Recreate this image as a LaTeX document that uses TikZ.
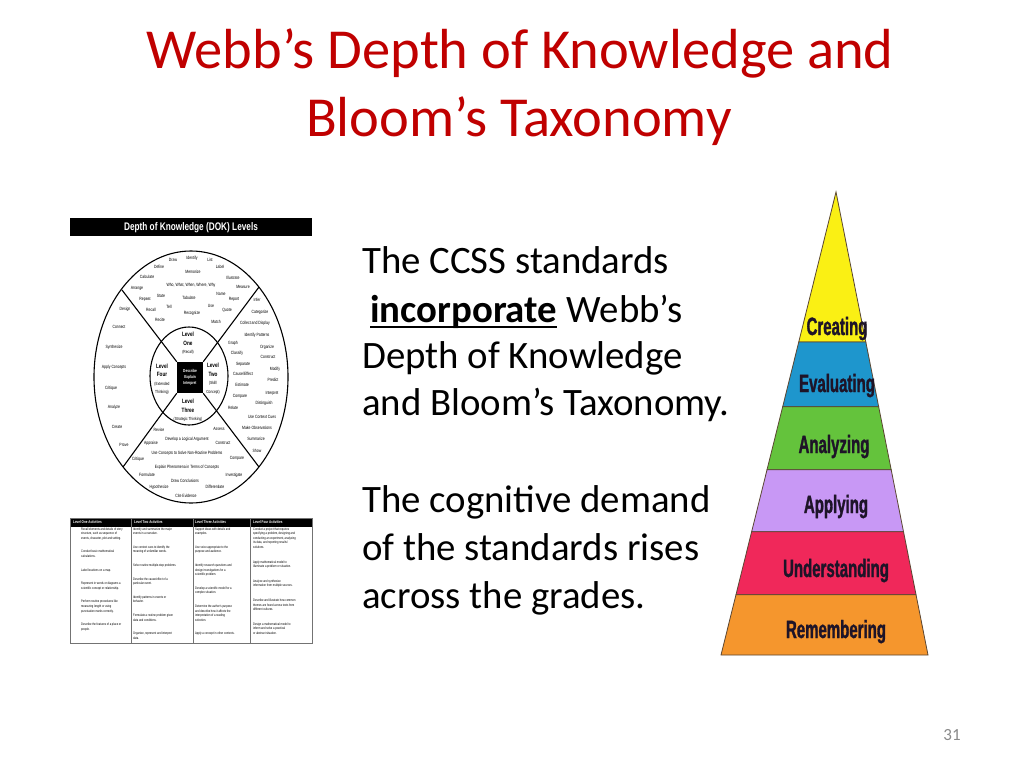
\documentclass[tikz,border=0pt]{standalone}
\usepackage{fontspec}
\setmainfont{Carlito}
\newfontfamily\cond[FakeStretch=0.75]{Liberation Sans}
\newfontfamily\pyrfont[FakeStretch=0.6, BoldFeatures={FakeBold=1.2}]{Liberation Sans}
\newcommand\lvlsubfont{\mdseries\fontsize{4.4}{8.5}\selectfont}
\usetikzlibrary{calc}
\definecolor{titlered}{RGB}{192,0,0}
\definecolor{pyY}{RGB}{250,240,20}
\definecolor{pyB}{RGB}{30,150,205}
\definecolor{pyG}{RGB}{100,195,60}
\definecolor{pyP}{RGB}{200,152,245}
\definecolor{pyR}{RGB}{240,40,90}
\definecolor{pyO}{RGB}{245,150,45}
\definecolor{pyline}{RGB}{90,70,50}
\definecolor{pytext}{RGB}{30,20,40}
\definecolor{pgnum}{RGB}{137,137,137}
\begin{document}
\begin{tikzpicture}[x=1pt,y=-1pt,
  titletext/.style={font=\fontsize{56.5}{68}\selectfont, text=titlered, anchor=base, inner sep=0},
  body/.style={font=\fontsize{38.8}{47.5}\selectfont, anchor=base west, inner sep=0},
  ww/.style={font=\cond\fontsize{4.6}{5}\selectfont, inner sep=0},
  lvl/.style={font=\cond\bfseries\fontsize{6.2}{8.5}\selectfont, align=center, inner sep=0},
  wline/.style={line width=1.1},
  tab/.style={font=\cond\fontsize{3.5}{4.6}\selectfont, align=left, inner sep=0, anchor=north west},
  tabhead/.style={font=\cond\bfseries\fontsize{4}{4.5}\selectfont, text=white, inner sep=0, anchor=west},
  band/.style={draw=pyline, line width=0.8},
  pyrlabel/.style={font=\pyrfont\bfseries\fontsize{25}{25}\selectfont, text=pytext, anchor=base, inner sep=0}
]
\useasboundingbox (0,0) rectangle (1024,768);
\fill[white] (0,0) rectangle (1024,768);

% ---------- title ----------
\node[titletext] (t1) at (520,68) {Webb’s Depth of Knowledge and};
\node[titletext] (t2) at (519,136) {Bloom’s Taxonomy};

% ---------- body text ----------
\node[body] (b1) at (362,273) {The CCSS standards};
\node[body, font=\bfseries\fontsize{38.8}{47.5}\selectfont] (b2a) at (370,322) {incorporate};
\node[body] (b2b) at ([xshift=9]b2a.base east) {Webb’s};
\draw[line width=2] ([yshift=-5]b2a.base west) -- ([yshift=-5]b2a.base east);
\node[body] (b3) at (362,368) {Depth of Knowledge};
\node[body] (b4) at (362,415) {and Bloom’s Taxonomy.};
\node[body] (b5) at (362,512) {The cognitive demand};
\node[body] (b6) at (362,560) {of the standards rises};
\node[body] (b7) at (362,608) {across the grades.};

% ---------- page number ----------
\node[font=\fontsize{17}{17}\selectfont, text=pgnum, inner sep=0] (pg) at (952,735) {31};

% ---------- DOK wheel ----------
\fill[black] (70,218) rectangle (312,236);
\node[font=\cond\bfseries\fontsize{11}{12}\selectfont, text=white, inner sep=0] (dokt) at (191,227.5) {Depth of Knowledge (DOK) Levels};

\draw[wline] (191,377) ellipse [x radius=97, y radius=126];
\draw[wline] (189,376) ellipse [x radius=39, y radius=49];
\node[fill=black, minimum width=26, minimum height=31, inner sep=0] (sq) at (190,377.5) {};
\coordinate (o1) at (122,290);
\coordinate (o2) at (259,287);
\coordinate (o3) at (123,467);
\coordinate (o4) at (259,467);
\draw[wline] (sq.north west) -- (o1);
\draw[wline] (sq.north east) -- (o2);
\draw[wline] (sq.south west) -- (o3);
\draw[wline] (sq.south east) -- (o4);
\node[font=\cond\bfseries\fontsize{4.3}{6}\selectfont, text=white, align=center, inner sep=0] (sqt) at (sq.center) {Describe\\Explain\\Interpret};

\node[lvl] (lv1) at (188,343.5) {Level\\One\\{\lvlsubfont(Recall)}};
\node[lvl] (lv2) at (213,378.5) {Level\\Two\\{\lvlsubfont(Skill/}\\{\lvlsubfont Concept)}};
\node[lvl] (lv3) at (188,410.5) {Level\\Three\\{\lvlsubfont(Strategic Thinking)}};
\node[lvl] (lv4) at (162,379) {Level\\Four\\{\lvlsubfont(Extended}\\{\lvlsubfont Thinking)}};

\foreach \x/\y/\t [count=\i] in {
 173/260/Draw, 192/258/Identify, 210/260/List, 159/267/Define, 193/272/Memorize,
 220/267/Label, 147/277/Calculate, 233/278/Illustrate, 191/285/{Who, What, When, Where, Why},
 137/288/Arrange, 243/287/Measure, 145/299/Repeat, 161/296/State, 189/298/Tabulate,
 221/294/Name, 234/299/Report, 151/310/Recall, 169/307/Tell, 192/313/Recognize,
 211/306/Use, 227/310/Quote, 160/320/Recite, 216/322/Match,
 257/300/Infer, 260/312/Categorize, 255/323/{Collect and Display}, 257/335/{Identify Patterns},
 233/343/Graph, 267/347/Organize, 237/353/Classify, 268/357/Construct, 243/364/Separate,
 275/369/Modify, 243/374/{Cause/Effect}, 273/380/Predict, 242/385/Estimate, 272/393/Interpret,
 240/396/Compare, 264/403/Distinguish, 233/408/Relate, 262/417/{Use Context Cues},
 257/428/{Make Observations}, 256/439/Summarize, 257/451/Show,
 159/430/Revise, 219/429/Assess, 187/439/{Develop a Logical Argument}, 151/443/Appraise,
 223/443/Construct, 187/453/{Use Concepts to Solve Non-Routine Problems}, 138/459/Critique,
 237/458/Compare, 187/467/{Explain Phenomena in Terms of Concepts}, 147/475/Formulate,
 234/475/Investigate, 185/481/{Draw Conclusions}, 159/487/Hypothesize, 215/487/Differentiate,
 186/496/{Cite Evidence},
 125/309/Design, 119/327/Connect, 114/347/Synthesize, 114/367/{Apply Concepts},
 111/388/Critique, 114/407/Analyze, 117/427/Create, 124/445/Prove}
 {\node[ww] (w\i) at (\x,\y) {\t};}

% ---------- activities table ----------
\fill[black] (70,518) rectangle (312,526.5);
\draw[black!55, line width=0.5] (70,518) rectangle (312,643);
\foreach \cx [count=\i] in {131,193,250}
  {\draw[black!55, line width=0.5] (\cx,518) -- (\cx,643);}
\node[tabhead] (h1) at (73,522.3) {Level One Activities};
\node[tabhead] (h2) at (134,522.3) {Level Two Activities};
\node[tabhead] (h3) at (195,522.3) {Level Three Activities};
\node[tabhead] (h4) at (253,522.3) {Level Four Activities};

\node[tab] (c1) at (81,527.3) {Recall elements and details of story\\structure, such as sequence of\\events, character, plot and setting.\\[9pt]
Conduct basic mathematical\\calculations.\\[9pt]
Label locations on a map.\\[9pt]
Represent in words or diagrams a\\scientific concept or relationship.\\[9pt]
Perform routine procedures like\\measuring length or using\\punctuation marks correctly.\\[9pt]
Describe the features of a place or\\people.};
\node[tab] (c2) at (133,527.3) {Identify and summarize the major\\events in a narrative.\\[9pt]
Use context cues to identify the\\meaning of unfamiliar words.\\[9pt]
Solve routine multiple-step problems.\\[9pt]
Describe the cause/effect of a\\particular event.\\[9pt]
Identify patterns in events or\\behavior.\\[9pt]
Formulate a routine problem given\\data and conditions.\\[9pt]
Organize, represent and interpret\\data.};
\node[tab] (c3) at (195,527.3) {Support ideas with details and\\examples.\\[9pt]
Use voice appropriate to the\\purpose and audience.\\[9pt]
Identify research questions and\\design investigations for a\\scientific problem.\\[9pt]
Develop a scientific model for a\\complex situation.\\[9pt]
Determine the author’s purpose\\and describe how it affects the\\interpretation of a reading\\selection.\\[9pt]
Apply a concept in other contexts.};
\node[tab] (c4) at (253,527.3) {Conduct a project that requires\\specifying a problem, designing and\\conducting an experiment, analyzing\\its data, and reporting results/\\solutions.\\[10pt]
Apply mathematical model to\\illuminate a problem or situation.\\[10pt]
Analyze and synthesize\\information from multiple sources.\\[10pt]
Describe and illustrate how common\\themes are found across texts from\\different cultures.\\[10pt]
Design a mathematical model to\\inform and solve a practical\\or abstract situation.};

% ---------- Bloom pyramid ----------
\coordinate (apex) at (836,192);
\coordinate (bl) at (721,655);
\coordinate (br) at (928,655);
\foreach \t [count=\i] in {0.324,0.464,0.600,0.734,0.870}
  {\coordinate (L\i) at ($(apex)!\t!(bl)$); \coordinate (R\i) at ($(apex)!\t!(br)$);}
\filldraw[band, fill=pyY] (apex) -- (R1) -- (L1) -- cycle;
\filldraw[band, fill=pyB] (L1) -- (R1) -- (R2) -- (L2) -- cycle;
\filldraw[band, fill=pyG] (L2) -- (R2) -- (R3) -- (L3) -- cycle;
\filldraw[band, fill=pyP] (L3) -- (R3) -- (R4) -- (L4) -- cycle;
\filldraw[band, fill=pyR] (L4) -- (R4) -- (R5) -- (L5) -- cycle;
\filldraw[band, fill=pyO] (L5) -- (R5) -- (br) -- (bl) -- cycle;
\node[pyrlabel] (p1) at (837,335) {Creating};
\node[pyrlabel] (p2) at (837,392) {Evaluating};
\node[pyrlabel] (p3) at (834,453) {Analyzing};
\node[pyrlabel] (p4) at (836,513) {Applying};
\node[pyrlabel] (p5) at (836,577) {Understanding};
\node[pyrlabel] (p6) at (836,638) {Remembering};
\end{tikzpicture}
\end{document}
